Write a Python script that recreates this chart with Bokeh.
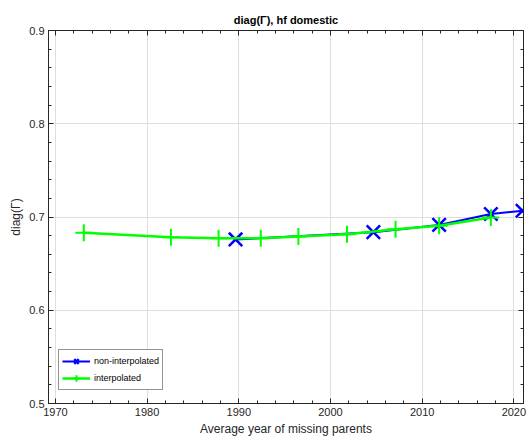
from bokeh.plotting import figure
from bokeh.models import LinearAxis, FixedTicker, Range1d, Legend, LegendItem, CustomJSTickFormatter
from bokeh.embed import file_html
from bokeh.resources import INLINE

years_non = [1989.65, 2004.68, 2011.85, 2017.49, 2020.95]
vals_non = [0.6759, 0.6837, 0.6915, 0.7032, 0.7067]
years_int = [1973.1, 1982.6, 1987.8, 1992.4, 1996.5, 2001.8, 2007.1, 2011.85, 2017.49]
vals_int = [0.6830, 0.6784, 0.6773, 0.6773, 0.6790, 0.6815, 0.6868, 0.6905, 0.6995]
x_ticks = [1970, 1980, 1990, 2000, 2010, 2020]
y_ticks = [0.5, 0.6, 0.7, 0.8, 0.9]
x_minor = list(range(1970, 2022, 2))
y_minor = [round(0.5 + 0.02 * i, 2) for i in range(21)]

FONT = "Liberation Sans"
AX = "#262626"

p = figure(width=529, height=438, output_backend="svg", toolbar_location=None,
           x_range=Range1d(1969.25, 2021.05), y_range=Range1d(0.5, 0.9),
           min_border_left=48, min_border_right=6, min_border_top=30, min_border_bottom=32,
           title="diag(Γ), hf domestic")
p.title.align = "center"
p.title.text_font = FONT
p.title.text_font_size = "11px"
p.title.text_font_style = "bold"
p.title.text_color = "#000000"
p.outline_line_color = AX
p.outline_line_width = 1

p.xaxis.ticker = FixedTicker(ticks=x_ticks, minor_ticks=x_minor)
p.yaxis.ticker = FixedTicker(ticks=y_ticks, minor_ticks=y_minor)
p.xaxis.axis_label = "Average year of missing parents"
p.yaxis.axis_label = "diag(Γ)"
for ax in (p.xaxis[0], p.yaxis[0]):
    ax.axis_line_color = AX
    ax.major_tick_line_color = AX
    ax.minor_tick_line_color = AX
    ax.major_tick_in = 5
    ax.major_tick_out = 0
    ax.minor_tick_in = 3
    ax.minor_tick_out = 0
    ax.major_label_text_font = FONT
    ax.major_label_text_font_size = "11px"
    ax.major_label_text_color = AX
    ax.axis_label_text_font = FONT
    ax.axis_label_text_font_size = "12px"
    ax.axis_label_text_font_style = "normal"
    ax.axis_label_text_color = AX
    ax.major_label_standoff = 4
    ax.axis_label_standoff = 3

for loc, tick, minor in (("above", x_ticks, x_minor), ("right", y_ticks, y_minor)):
    ax = LinearAxis(ticker=FixedTicker(ticks=tick, minor_ticks=minor),
                    formatter=CustomJSTickFormatter(code="return ''"))
    ax.axis_line_color = AX
    ax.major_tick_line_color = AX
    ax.minor_tick_line_color = AX
    ax.major_tick_in = 5
    ax.major_tick_out = 0
    ax.minor_tick_in = 3
    ax.minor_tick_out = 0
    ax.major_label_standoff = 0
    p.add_layout(ax, loc)

p.xgrid.grid_line_color = "#dedede"
p.ygrid.grid_line_color = "#dedede"
p.xgrid.ticker = FixedTicker(ticks=x_ticks)
p.ygrid.ticker = FixedTicker(ticks=y_ticks)

l1 = p.line(years_non, vals_non, line_color="#0000ff", line_width=2)
s1 = p.scatter(years_non, vals_non, marker="x", size=19, line_color="#0000ff", line_width=2.5)
l2 = p.line(years_int, vals_int, line_color="#00ff00", line_width=2.5)
s2 = p.scatter(years_int, vals_int, marker="cross", size=17, line_color="#00ff00", line_width=2)

legend = Legend(items=[LegendItem(label="non-interpolated", renderers=[l1, s1]),
                       LegendItem(label="interpolated", renderers=[l2, s2])],
                location=(10, 13))
legend.label_text_font = FONT
legend.label_text_font_size = "9px"
legend.label_text_color = "#000000"
legend.border_line_color = AX
legend.border_line_width = 1
legend.background_fill_color = "white"
legend.background_fill_alpha = 1
legend.glyph_width = 28
legend.glyph_height = 16
legend.label_height = 16
legend.spacing = 1
legend.padding = 3
legend.margin = 0
legend.label_standoff = 4
p.add_layout(legend, "center")

open("out.html", "w").write(file_html(p, INLINE))
